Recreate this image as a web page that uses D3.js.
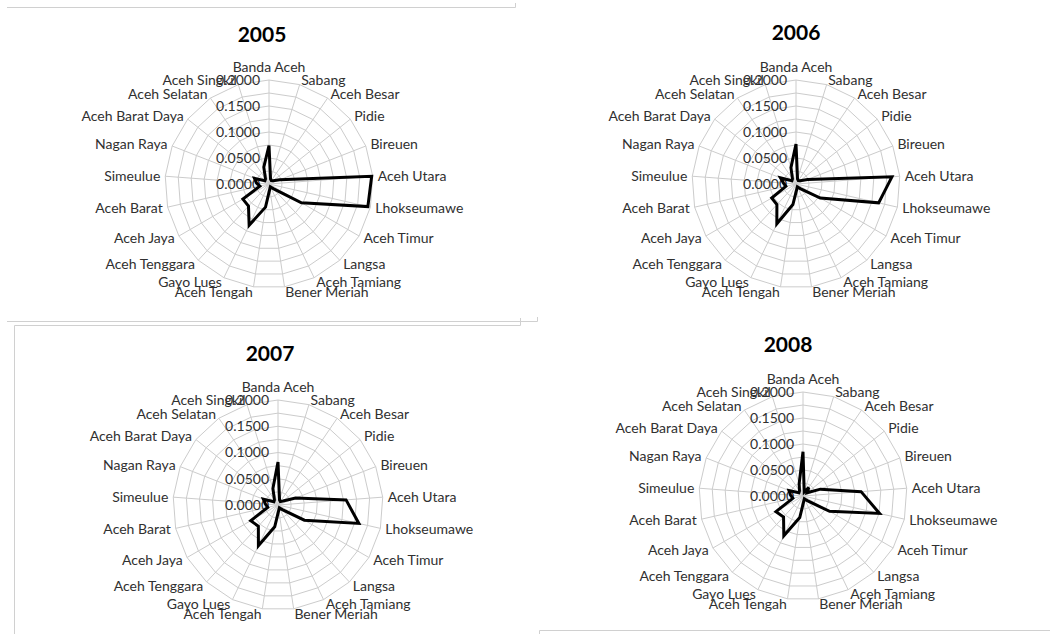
<!DOCTYPE html>
<html><head><meta charset="utf-8">
<script src="https://cdn.jsdelivr.net/npm/d3@7"></script>
<style>
body{margin:0;background:#fff}
svg{display:block}
text{font-family:Lato,"Open Sans",sans-serif}
</style>
</head><body>
<svg id="chart" width="1050" height="634"></svg>
<script>
const categories = ["Banda Aceh","Sabang","Aceh Besar","Pidie","Bireuen","Aceh Utara","Lhokseumawe","Aceh Timur","Langsa","Aceh Tamiang","Bener Meriah","Aceh Tengah","Gayo Lues","Aceh Tenggara","Aceh Jaya","Aceh Barat","Simeulue","Nagan Raya","Aceh Barat Daya","Aceh Selatan","Aceh Singkil"];
const years = ["2005","2006","2007","2008"];
const values2005 = [0.074,0.010,0.008,0.010,0.022,0.198,0.195,0.072,0.012,0.006,0.010,0.045,0.088,0.058,0.058,0.018,0.024,0.030,0.010,0.012,0.034];
const values2006 = [0.077,0.010,0.008,0.010,0.024,0.185,0.163,0.054,0.012,0.006,0.010,0.040,0.085,0.054,0.054,0.020,0.024,0.032,0.010,0.012,0.033];
const values2007 = [0.082,0.010,0.008,0.012,0.036,0.130,0.158,0.058,0.012,0.006,0.010,0.042,0.086,0.055,0.060,0.020,0.024,0.030,0.010,0.012,0.033];
const values2008 = [0.085,0.008,0.020,0.010,0.036,0.112,0.151,0.059,0.012,0.006,0.010,0.042,0.085,0.055,0.060,0.020,0.024,0.029,0.010,0.012,0.025];
const tickValues = [0,0.05,0.1,0.15,0.2];
const tickLabels = ["0.0000","0.0500","0.1000","0.1500","0.2000"];
const gridValues = [0.025,0.05,0.075,0.1,0.125,0.15,0.175,0.2];

const seriesByYear = {"2005":values2005,"2006":values2006,"2007":values2007,"2008":values2008};
const layout = [
  {cx:269, cy:184, r:104, tx:262, ty:42},
  {cx:796, cy:184, r:104, tx:796, ty:40},
  {cx:278, cy:505, r:105, tx:270, ty:361},
  {cx:803, cy:496, r:104, tx:788, ty:352}
];

const svg = d3.select("#chart");

// frame decorations
const deco = svg.append("g").attr("stroke","#d0d0d0").attr("fill","none").attr("stroke-width",1);
deco.append("path").attr("d","M7,7.5H515.5V3");
deco.append("path").attr("d","M7,321.5H537.5V317");
deco.append("path").attr("d","M14.5,634V325.5H520.5V318");
deco.append("path").attr("d","M539.5,634V630.5H1050");

const n = categories.length;
const angle = d3.scaleLinear().domain([0,n]).range([0,2*Math.PI]);

years.forEach((yr,i)=>{
  const L = layout[i];
  const vals = seriesByYear[yr];
  const rScale = d3.scaleLinear().domain([0,0.2]).range([0,L.r]);
  const g = svg.append("g").attr("transform",`translate(${L.cx},${L.cy})`);

  const gridLine = d3.lineRadial().curve(d3.curveLinearClosed)
    .angle((d,k)=>angle(k)).radius(d=>d);
  gridValues.forEach(v=>{
    g.append("path").attr("d",gridLine(categories.map(()=>rScale(v))))
      .attr("fill","none").attr("stroke","#cccccc").attr("stroke-width",1);
  });
  categories.forEach((c,k)=>{
    const a = angle(k);
    g.append("line").attr("x1",0).attr("y1",0)
      .attr("x2",rScale(0.2)*Math.sin(a)).attr("y2",-rScale(0.2)*Math.cos(a))
      .attr("stroke","#cccccc").attr("stroke-width",1);
  });

  categories.forEach((c,k)=>{
    const a = angle(k);
    const s = Math.sin(a), co = Math.cos(a);
    const rr = rScale(0.2)+5;
    let x = rr*s, y = -rr*co;
    let anchor = s>0.01 ? "start" : (s<-0.01 ? "end" : "middle");
    if (anchor==="middle") y -= 8;
    g.append("text").attr("x",x).attr("y",y).attr("dy","0.35em")
      .attr("text-anchor",anchor).attr("font-size",14).attr("fill","#303030").text(c);
  });

  tickValues.forEach((v,k)=>{
    g.append("text").attr("x",-9).attr("y",-rScale(v)).attr("dy","0.35em")
      .attr("text-anchor","end").attr("font-size",14).attr("fill","#303030").text(tickLabels[k]);
  });

  const line = d3.lineRadial().curve(d3.curveLinearClosed)
    .angle((d,k)=>angle(k)).radius(d=>rScale(d));
  g.append("path").attr("d",line(vals)).attr("fill","none")
    .attr("stroke","#000").attr("stroke-width",3).attr("stroke-linejoin","miter");

  svg.append("text").attr("x",L.tx).attr("y",L.ty).attr("text-anchor","middle")
    .attr("font-size",21).attr("font-weight","bold").attr("fill","#000").text(yr);
});
</script>
</body></html>
